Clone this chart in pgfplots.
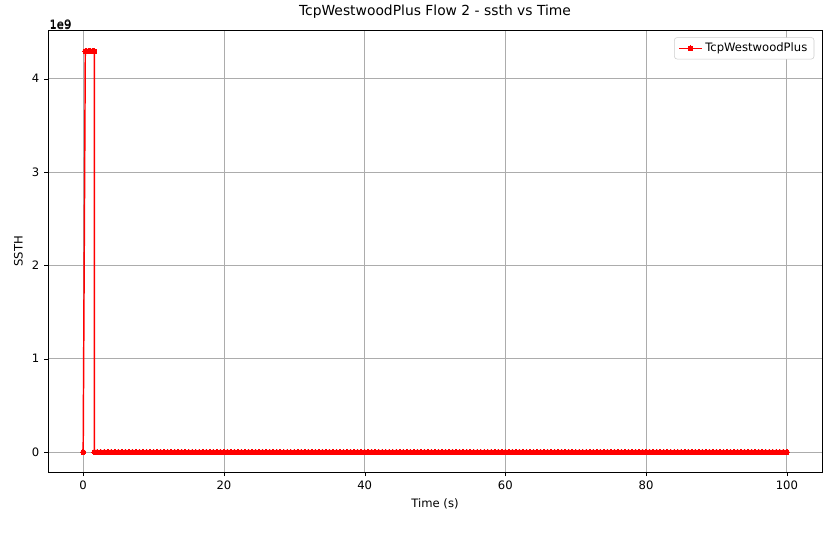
\documentclass[border=0pt]{standalone}
\usepackage{pgfplots}
\pgfplotsset{compat=1.18}
\usepackage{fontspec}
\setmainfont{DejaVu Sans}
\begin{document}
\begin{tikzpicture}[x=0.75pt,y=0.75pt]
\begin{axis}[name=ax,at={(0,0)},anchor=south west,
 width=580.5pt,height=331pt,scale only axis,
 xmin=-5,xmax=105,ymin=-0.214e9,ymax=4.515e9,
 xtick={0,20,40,60,80,100},ytick={0,1e9,2e9,3e9,4e9},
 xtick pos=left,ytick pos=left,
 scaled y ticks=manual:{1e9}{\pgfmathparse{#1/1e9}},
 every y tick scale label/.style={at={(rel axis cs:0,1)},anchor=south west,inner sep=1pt},
 grid=major,grid style={gray!65,line width=0.6pt},
 tick style={black},tick align=outside,major tick length=3pt,
 font=\fontsize{8.7}{10}\selectfont,
 /pgf/number format/assume math mode=true,
 title={\fontsize{10.4}{12}\selectfont TcpWestwoodPlus Flow 2 - ssth vs Time},
 xlabel={Time (s)},ylabel={SSTH},
 legend style={at={(0.99,0.985)},anchor=north east,draw=gray!40,rounded corners=2pt,font=\fontsize{8.7}{10}\selectfont},
 legend cell align=left]
\addplot[red,line width=1.1pt,mark=*,mark size=1.9pt,mark options={line width=0pt}] coordinates {
(0,0)(0.3,4.295e9)(0.5,4.295e9)(0.7,4.295e9)(0.9,4.295e9)(1.1,4.295e9)(1.3,4.295e9)(1.5,4.295e9)(1.6,4.295e9)(1.6,0)
(2,0)(2.5,0)(3,0)(3.5,0)(4,0)(4.5,0)(5,0)(5.5,0)(6,0)(6.5,0)(7,0)(7.5,0)(8,0)(8.5,0)(9,0)(9.5,0)
(10,0)(10.5,0)(11,0)(11.5,0)(12,0)(12.5,0)(13,0)(13.5,0)(14,0)(14.5,0)(15,0)(15.5,0)(16,0)(16.5,0)(17,0)(17.5,0)(18,0)(18.5,0)(19,0)(19.5,0)
(20,0)(20.5,0)(21,0)(21.5,0)(22,0)(22.5,0)(23,0)(23.5,0)(24,0)(24.5,0)(25,0)(25.5,0)(26,0)(26.5,0)(27,0)(27.5,0)(28,0)(28.5,0)(29,0)(29.5,0)
(30,0)(30.5,0)(31,0)(31.5,0)(32,0)(32.5,0)(33,0)(33.5,0)(34,0)(34.5,0)(35,0)(35.5,0)(36,0)(36.5,0)(37,0)(37.5,0)(38,0)(38.5,0)(39,0)(39.5,0)
(40,0)(40.5,0)(41,0)(41.5,0)(42,0)(42.5,0)(43,0)(43.5,0)(44,0)(44.5,0)(45,0)(45.5,0)(46,0)(46.5,0)(47,0)(47.5,0)(48,0)(48.5,0)(49,0)(49.5,0)
(50,0)(50.5,0)(51,0)(51.5,0)(52,0)(52.5,0)(53,0)(53.5,0)(54,0)(54.5,0)(55,0)(55.5,0)(56,0)(56.5,0)(57,0)(57.5,0)(58,0)(58.5,0)(59,0)(59.5,0)
(60,0)(60.5,0)(61,0)(61.5,0)(62,0)(62.5,0)(63,0)(63.5,0)(64,0)(64.5,0)(65,0)(65.5,0)(66,0)(66.5,0)(67,0)(67.5,0)(68,0)(68.5,0)(69,0)(69.5,0)
(70,0)(70.5,0)(71,0)(71.5,0)(72,0)(72.5,0)(73,0)(73.5,0)(74,0)(74.5,0)(75,0)(75.5,0)(76,0)(76.5,0)(77,0)(77.5,0)(78,0)(78.5,0)(79,0)(79.5,0)
(80,0)(80.5,0)(81,0)(81.5,0)(82,0)(82.5,0)(83,0)(83.5,0)(84,0)(84.5,0)(85,0)(85.5,0)(86,0)(86.5,0)(87,0)(87.5,0)(88,0)(88.5,0)(89,0)(89.5,0)
(90,0)(90.5,0)(91,0)(91.5,0)(92,0)(92.5,0)(93,0)(93.5,0)(94,0)(94.5,0)(95,0)(95.5,0)(96,0)(96.5,0)(97,0)(97.5,0)(98,0)(98.5,0)(99,0)(99.5,0)(100,0)};
\addlegendentry{TcpWestwoodPlus}
\end{axis}
\node[anchor=south west,inner sep=1pt,font=\fontsize{8.7}{10}\selectfont] at (0,441) {1e9};
\path (-48,-75) rectangle (785,472);
\end{tikzpicture}
\end{document}
